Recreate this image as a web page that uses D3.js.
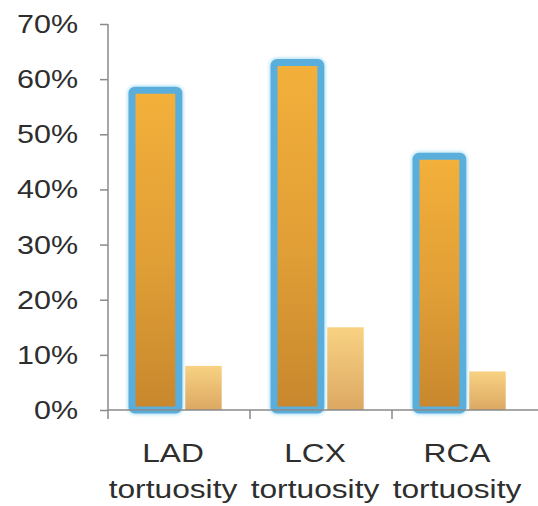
<!DOCTYPE html>
<html>
<head>
<meta charset="utf-8">
<script src="https://cdn.jsdelivr.net/npm/d3@7"></script>
<style>
  html, body { margin: 0; padding: 0; background: #fff; }
  svg { display: block; }
  text { font-family: "Liberation Sans", Arial, sans-serif; fill: #2e2e2e; }
</style>
</head>
<body>
<svg id="chart" width="538" height="506"></svg>
<script>
// Vessel categories and the two series of percentages
const categories = ["LAD", "LCX", "RCA"];
const categoryLines = [["LAD", "tortuosity"], ["LCX", "tortuosity"], ["RCA", "tortuosity"]];
const seriesNames = ["tortuous", "control"];
const tortuousValues = [58, 63, 46];
const controlValues = [8, 15, 7];
const yTicks = [0, 10, 20, 30, 40, 50, 60, 70];

const svg = d3.select("#chart");
const plotLeft = 108, plotRight = 534, plotTop = 24, plotBottom = 410;
const stretch = 1.22; // horizontal stretch of the lettering

const defs = svg.append("defs");
const gBig = defs.append("linearGradient").attr("id", "gradBig")
  .attr("x1", 0).attr("y1", 0).attr("x2", 0).attr("y2", 1);
gBig.append("stop").attr("offset", "0%").attr("stop-color", "#f3b03a");
gBig.append("stop").attr("offset", "55%").attr("stop-color", "#e09e36");
gBig.append("stop").attr("offset", "100%").attr("stop-color", "#c8872d");
const gSmall = defs.append("linearGradient").attr("id", "gradSmall")
  .attr("x1", 0).attr("y1", 0).attr("x2", 0).attr("y2", 1);
gSmall.append("stop").attr("offset", "0%").attr("stop-color", "#f8d282");
gSmall.append("stop").attr("offset", "100%").attr("stop-color", "#dca863");
const halo = defs.append("filter").attr("id", "halo")
  .attr("x", "-20%").attr("y", "-20%").attr("width", "140%").attr("height", "140%");
halo.append("feGaussianBlur").attr("stdDeviation", 1.6);

const y = d3.scaleLinear().domain([0, 70]).range([plotBottom, plotTop]);
const x = d3.scaleBand().domain(categories).range([plotLeft, plotRight]).padding(0);
const bw = x.bandwidth();
const x1 = d3.scaleBand().domain(seriesNames).range([24, 124]).paddingInner(0.12);
const smallWidth = x1.bandwidth() * 0.78;

const rows = categories.map((c, i) => ({ c, big: tortuousValues[i], small: controlValues[i] }));

// control bars
svg.append("g").selectAll("rect").data(rows).join("rect")
  .attr("x", d => x(d.c) + x1("control"))
  .attr("y", d => y(d.small))
  .attr("width", smallWidth)
  .attr("height", d => y(0) - y(d.small))
  .attr("fill", "url(#gradSmall)");

// soft glow around the outlined bars
svg.append("g").selectAll("rect").data(rows).join("rect")
  .attr("x", d => x(d.c) + x1("tortuous"))
  .attr("y", d => y(d.big))
  .attr("width", x1.bandwidth())
  .attr("height", d => y(0) - y(d.big))
  .attr("rx", 3)
  .attr("fill", "none")
  .attr("stroke", "#bfe6f7")
  .attr("stroke-width", 10)
  .attr("filter", "url(#halo)");

// outlined tortuous bars
svg.append("g").selectAll("rect").data(rows).join("rect")
  .attr("x", d => x(d.c) + x1("tortuous"))
  .attr("y", d => y(d.big))
  .attr("width", x1.bandwidth())
  .attr("height", d => y(0) - y(d.big))
  .attr("rx", 3)
  .attr("fill", "url(#gradBig)")
  .attr("stroke", "#5aaedb")
  .attr("stroke-width", 7);

// y axis
const yAxis = d3.axisLeft(y).tickValues(yTicks).tickSize(8).tickPadding(0).tickFormat(() => "");
const gy = svg.append("g").attr("transform", `translate(${plotLeft},0)`).call(yAxis);
gy.select(".domain").attr("stroke", "#8a8a8a").attr("stroke-width", 1.5).attr("d", `M0,${plotTop}V${plotBottom}`);
gy.selectAll(".tick line").attr("stroke", "#8a8a8a").attr("stroke-width", 1.5);
svg.append("g").selectAll("text").data(yTicks).join("text")
  .attr("transform", d => `translate(78,${y(d) + 9}) scale(${stretch},1)`)
  .attr("text-anchor", "end")
  .attr("font-size", 25)
  .text(d => d + "%");

// x axis
const gx = svg.append("g").attr("transform", `translate(0,${plotBottom})`);
gx.append("line").attr("x1", plotLeft).attr("x2", 538).attr("y1", 0).attr("y2", 0)
  .attr("stroke", "#8a8a8a").attr("stroke-width", 1.5);
gx.selectAll("line.tk").data(categories.map(c => x(c))).join("line")
  .attr("class", "tk")
  .attr("x1", d => d).attr("x2", d => d).attr("y1", 0).attr("y2", 9)
  .attr("stroke", "#8a8a8a").attr("stroke-width", 1.5);

const labels = svg.append("g").selectAll("g").data(categories).join("g");
labels.each(function (c, i) {
  const cx = x(c) + bw / 2 - 6;
  categoryLines[i].forEach((line, j) => {
    d3.select(this).append("text")
      .attr("transform", `translate(${cx},${462 + j * 36}) scale(${stretch},1)`)
      .attr("text-anchor", "middle")
      .attr("font-size", 26)
      .text(line);
  });
});
</script>
</body>
</html>
